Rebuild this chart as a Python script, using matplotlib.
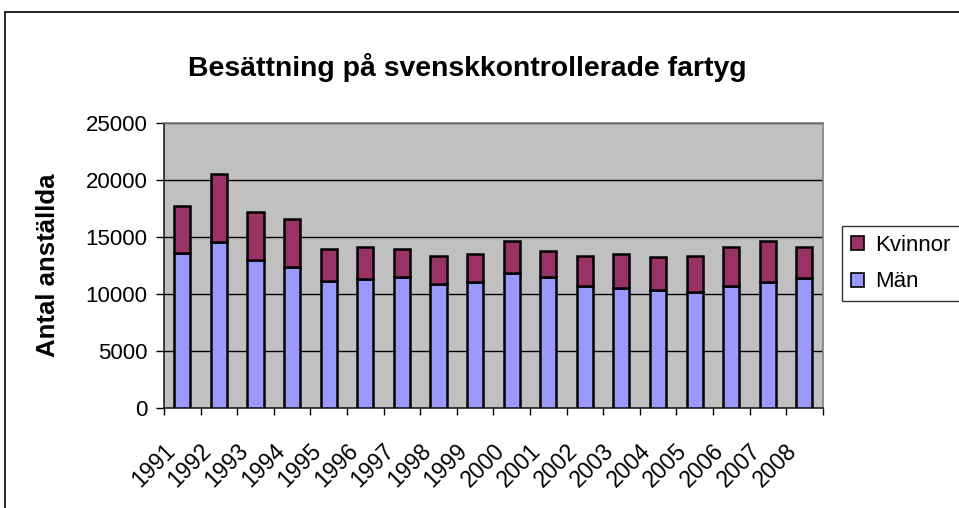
import matplotlib
matplotlib.use("Agg")
import matplotlib.pyplot as plt
import matplotlib.transforms as mtransforms
from matplotlib.patches import Rectangle, Patch
import numpy as np

plt.rcParams['font.family'] = ['Liberation Sans', 'DejaVu Sans']

years = ['1991', '1992', '1993', '1994', '1995', '1996', '1997', '1998', '1999',
         '2000', '2001', '2002', '2003', '2004', '2005', '2006', '2007', '2008']
man = [13600, 14550, 13000, 12370, 11150, 11300, 11450, 10850, 11000,
       11800, 11450, 10700, 10550, 10350, 10200, 10700, 11000, 11350]
total = [17700, 20500, 17200, 16600, 13950, 14100, 13950, 13350, 13500,
         14600, 13800, 13350, 13500, 13200, 13350, 14100, 14600, 14100]
kvinnor = [t - m for t, m in zip(total, man)]

title = 'Besättning på svenskkontrollerade fartyg'
ylabel = 'Antal anställda'
c_man = '#9999FF'
c_kv = '#993366'

W, H = 959, 508
fig = plt.figure(figsize=(W / 100, H / 100), dpi=100)
fig.patch.set_facecolor('white')

# outer chart frame (cut at right/bottom)
fig.patches.append(Rectangle((5 / W, -0.2), 1.5, 1 - 12 / H + 0.2,
                             transform=fig.transFigure, fill=False,
                             edgecolor='black', linewidth=1.2, clip_on=False))

left, right = 164 / W, 822.7 / W
bottom, top = 1 - 408 / H, 1 - 122.7 / H
ax = fig.add_axes([left, bottom, right - left, top - bottom])
ax.set_facecolor('#C0C0C0')

x = np.arange(len(years))
bw = 0.44
ax.bar(x, man, width=bw, color=c_man, edgecolor='black', linewidth=1.8, zorder=3)
ax.bar(x, kvinnor, bottom=man, width=bw, color=c_kv, edgecolor='black', linewidth=1.8, zorder=3)

ax.set_xlim(-0.5, len(years) - 0.5)
ax.set_ylim(0, 25000)
ax.set_yticks(np.arange(0, 25001, 5000))
ax.yaxis.grid(True, color='black', linewidth=1.0, zorder=1)
ax.set_axisbelow(True)

for s in ['top', 'right']:
    ax.spines[s].set_color('#808080')
    ax.spines[s].set_linewidth(1.2)
for s in ['left', 'bottom']:
    ax.spines[s].set_color('#222222')
    ax.spines[s].set_linewidth(1.2)

ax.tick_params(axis='y', direction='out', length=6, width=1, labelsize=16, pad=6, colors='black')
ax.set_xticks(x)
ax.set_xticklabels(years, rotation=45, ha='right', va='top', rotation_mode='anchor', fontsize=16.5)
ax.tick_params(axis='x', which='major', length=0, pad=0)
ax.set_xticks(np.arange(-0.5, len(years), 1.0), minor=True)
ax.tick_params(axis='x', which='minor', direction='out', length=5, width=1, color='black')
offset = mtransforms.ScaledTranslation(-19 / 100, -31 / 100, fig.dpi_scale_trans)
for lab in ax.get_xticklabels():
    lab.set_transform(lab.get_transform() + offset)

ax.set_ylabel(ylabel, fontsize=18.5, fontweight='bold')
ax.yaxis.set_label_coords((60 - 164) / (822.7 - 164), 0.5)

fig.text(467 / W, 1 - 68 / H, title, ha='center', va='center', fontsize=20.4, fontweight='bold')

handles = [Patch(facecolor=c_kv, edgecolor='black', linewidth=1.2, label='Kvinnor'),
           Patch(facecolor=c_man, edgecolor='black', linewidth=1.2, label='Män')]
leg = fig.legend(handles=handles, loc='upper left', bbox_to_anchor=(842 / W, 1 - 226 / H),
                 fontsize=16, frameon=True, fancybox=False, shadow=False,
                 handlelength=0.6, handleheight=0.6, handletextpad=0.5,
                 borderpad=0.4, labelspacing=0.7, borderaxespad=0)
leg.get_frame().set_edgecolor('black')
leg.get_frame().set_linewidth(1.0)

fig.savefig('out.png', dpi=100)
